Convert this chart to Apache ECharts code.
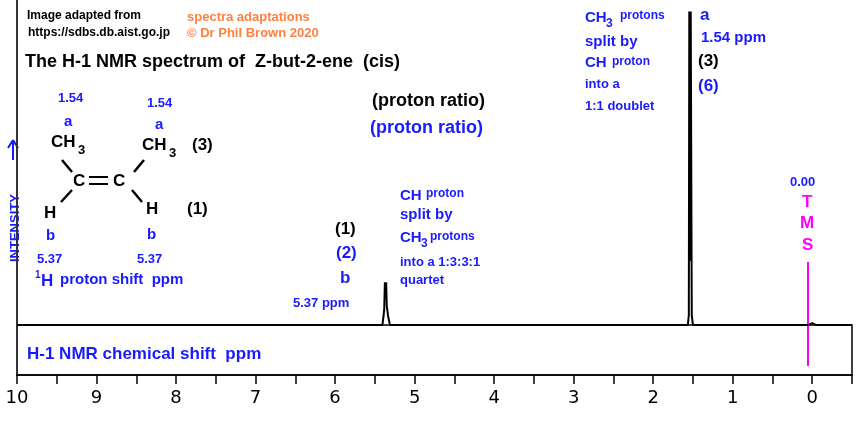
<!DOCTYPE html>
<html>
<head>
<meta charset="utf-8">
<script src="https://cdn.jsdelivr.net/npm/echarts@6/dist/echarts.min.js"></script>
<style>html,body{margin:0;padding:0;background:#fff}#chart{width:860px;height:423px}</style>
</head>
<body>
<div id="chart"></div>
<script>
// spectrum trace: [ppm, intensity]
const shifts = [-0.5, 0.05, 0.0, -0.05, 1.50, 1.515, 1.528, 1.534, 1.540, 1.546, 1.552, 1.565, 1.58,
  5.31, 5.335, 5.350, 5.358, 5.366, 5.374, 5.382, 5.39, 5.405, 10];
const intensity = [0, 0, 0.6, 0, 0, 3, 98, 30, 20, 98, 3, 0, 0,
  0, 3, 6, 13.4, 9, 13.4, 5, 3, 0, 0];
const tickLabels = ['0','1','2','3','4','5','6','7','8','9','10'];

const spectrum = shifts.map((s, i) => [s, intensity[i]])
  .sort((a, b) => a[0] - b[0]);

function t(x, y, text, color, font, extra) {
  return Object.assign({ type: 'text', x, y,
    style: { text, fill: color, font, textVerticalAlign: 'middle' } }, extra || {});
}
function ln(x1, y1, x2, y2, color, w) {
  return { type: 'line', shape: { x1, y1, x2, y2 }, style: { stroke: color, lineWidth: w || 2 } };
}
const blue = '#1a1aff', blk = '#000', mag = '#ff00ff', orng = '#ff8040';
const f11 = 'bold 12px "Liberation Sans", Arial';
const f12 = 'bold 13px "Liberation Sans", Arial';
const f14 = 'bold 15px "Liberation Sans", Arial';
const f16 = 'bold 17px "Liberation Sans", Arial';
const f18 = 'bold 18px "Liberation Sans", Arial';

const chart = echarts.init(document.getElementById('chart'));
chart.setOption({
  animation: false,
  grid: { left: 17, right: 8, top: 0, bottom: 48 },
  xAxis: {
    type: 'value', inverse: true, min: -0.5, max: 10, interval: 0.5,
    splitLine: { show: false },
    axisLine: { onZero: false, lineStyle: { color: '#000', width: 1.5 } },
    axisTick: { length: 9, lineStyle: { color: '#000', width: 1.5 } },
    axisLabel: {
      color: '#000', fontSize: 18, fontFamily: 'DejaVu Sans', margin: 14,
      formatter: v => Number.isInteger(v) && v >= 0 ? tickLabels[v] : ''
    }
  },
  yAxis: {
    type: 'value', min: -15.6, max: 101.6,
    axisLine: { show: true, onZero: false, lineStyle: { color: '#333', width: 2 } },
    axisTick: { show: false }, axisLabel: { show: false }, splitLine: { show: false }
  },
  series: [{
    type: 'line', data: spectrum, symbol: 'none',
    lineStyle: { color: '#000', width: 2 }
  }],
  graphic: [
    { type: 'rect', shape: { x: 17, y: 325, width: 835, height: 50 }, style: { fill: 'none', stroke: '#000', lineWidth: 1.5 }, z: 0 },
    ln(808, 262, 808, 366, mag, 2),
    t(27, 16, 'Image adapted from', blk, f11),
    t(28, 33, 'https://sdbs.db.aist.go.jp', blk, f11),
    t(187, 17, 'spectra adaptations', orng, f12),
    t(187, 33, '© Dr Phil Brown 2020', orng, f12),
    t(25, 62, 'The H-1 NMR spectrum of  Z-but-2-ene  (cis)', blk, f18),
    t(58, 98, '1.54', blue, f12), t(147, 103, '1.54', blue, f12),
    t(64, 122, 'a', blue, f14), t(155, 125, 'a', blue, f14),
    t(51, 142, 'CH', blk, f16), t(78, 150, '3', blk, f12),
    t(142, 145, 'CH', blk, f16), t(169, 153, '3', blk, f12),
    t(192, 145, '(3)', blk, f16),
    t(73, 181, 'C', blk, f16), t(113, 181, 'C', blk, f16),
    ln(89, 177, 108, 177, blk), ln(89, 184, 108, 184, blk),
    ln(62, 160, 72, 172, blk, 2.5), ln(144, 160, 134, 172, blk, 2.5),
    ln(72, 190, 61, 202, blk, 2.5), ln(132, 190, 142, 202, blk, 2.5),
    t(44, 213, 'H', blk, f16), t(146, 209, 'H', blk, f16),
    t(187, 209, '(1)', blk, f16),
    t(46, 236, 'b', blue, f14), t(147, 235, 'b', blue, f14),
    t(37, 259, '5.37', blue, f12), t(137, 259, '5.37', blue, f12),
    t(35, 275, '1', blue, 'bold 10px "Liberation Sans", Arial'),
    t(41, 281, 'H', blue, f16),
    t(60, 280, 'proton shift  ppm', blue, f14),
    t(15, 262, 'INTENSITY', blue, f12, { rotation: Math.PI / 2 }),
    ln(13, 140, 13, 160, blue, 2), ln(13, 140, 8, 148, blue, 2), ln(13, 140, 18, 148, blue, 2),
    t(372, 101, '(proton ratio)', blk, f18),
    t(370, 128, '(proton ratio)', blue, f18),
    t(335, 229, '(1)', blk, f16), t(336, 253, '(2)', blue, f16),
    t(340, 278, 'b', blue, f16), t(293, 303, '5.37 ppm', blue, f12),
    t(400, 196, 'CH', blue, f14), t(426, 194, 'proton', blue, f11),
    t(400, 215, 'split by', blue, f14),
    t(400, 238, 'CH', blue, f14), t(421, 244, '3', blue, f11), t(430, 237, 'protons', blue, f11),
    t(400, 262, 'into a 1:3:3:1', blue, f12),
    t(400, 280, 'quartet', blue, f12),
    t(585, 18, 'CH', blue, f14), t(606, 24, '3', blue, f11), t(620, 16, 'protons', blue, f11),
    t(585, 42, 'split by', blue, f14),
    t(585, 63, 'CH', blue, f14), t(612, 62, 'proton', blue, f11),
    t(585, 84, 'into a', blue, f12),
    t(585, 106, '1:1 doublet', blue, f12),
    t(700, 15, 'a', blue, f16), t(701, 38, '1.54 ppm', blue, f14),
    t(698, 61, '(3)', blk, f16), t(698, 86, '(6)', blue, f16),
    t(790, 182, '0.00', blue, f12),
    t(802, 202, 'T', mag, f16), t(800, 223, 'M', mag, f16), t(802, 245, 'S', mag, f16),
    t(27, 354, 'H-1 NMR chemical shift  ppm', blue, f16)
  ]
});
</script>
</body>
</html>
